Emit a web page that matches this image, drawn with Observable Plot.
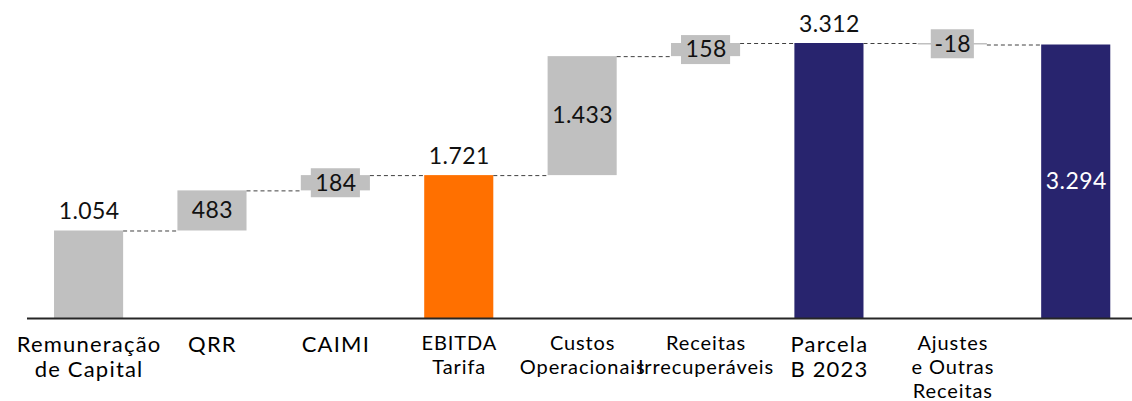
<!DOCTYPE html>
<html><head><meta charset="utf-8">
<script src="https://cdn.jsdelivr.net/npm/d3@7"></script>
<script src="https://cdn.jsdelivr.net/npm/@observablehq/plot@0.6"></script>
<style>
html,body{margin:0;padding:0;background:#fff;overflow:hidden}
</style>
</head><body><div id="chart"></div>
<script>
const categories = ["Remuneração\nde Capital","QRR","CAIMI","EBITDA\nTarifa","Custos\nOperacionais","Receitas\nIrrecuperáveis","Parcela\nB 2023","Ajustes\ne Outras\nReceitas",""];
const values = [1054, 483, 184, 1721, 1433, 158, 3312, -18, 3294];
const kinds = ["total","delta","delta","total","delta","delta","total","delta","total"];
const colors = ["#C0C0C0","#C0C0C0","#C0C0C0","#FF7000","#C0C0C0","#C0C0C0","#28246E","#C0C0C0","#28246E"];
const labelPlacement = ["above","box","box","above","box","box","above","box","inside"];
const largeLabels = [true,true,true,false,false,false,true,false,false];

const locale = d3.formatLocale({decimal:",", thousands:".", grouping:[3], currency:["R$",""], minus:"-"});
const fmt = locale.format(",d");

let run = 0;
const rows = categories.map((c, i) => {
  let y1, y2;
  if (kinds[i] === "total") { y1 = 0; y2 = values[i]; }
  else { y1 = run; y2 = run + values[i]; }
  run = y2;
  return {cat: c, value: values[i], y1, y2, mid: (y1 + y2) / 2, top: Math.max(y1, y2),
          color: colors[i], place: labelPlacement[i], large: largeLabels[i], label: fmt(values[i])};
});
const links = rows.slice(0, -1).map((r, i) => ({from: r.cat, to: rows[i + 1].cat, level: r.y2}));

const xOpts = {type: "band", domain: categories, range: [27, 1137.3], paddingInner: 0.44, paddingOuter: 0.219, round: false};
let bw = 69;
try { const s = Plot.scale({x: xOpts}); if (s && s.bandwidth) bw = s.bandwidth; } catch (e) {}

const chart = Plot.plot({
  width: 1132,
  height: 401,
  marginTop: 0,
  marginBottom: 83,
  marginLeft: 27,
  marginRight: 0,
  style: {fontFamily: "Lato, sans-serif", background: "white", color: "#000"},
  x: {...xOpts, axis: null},
  y: {domain: [0, 3830], axis: null},
  color: {type: "identity"},
  marks: [
    Plot.barY(rows, {x: "cat", y1: "y1", y2: "y2", fill: "color"}),
    Plot.ruleY(links, {x1: "from", x2: "to", y: "level", stroke: "#404040", strokeWidth: 1, strokeDasharray: "4,3", insetLeft: bw, insetRight: bw}),
    Plot.barY(rows.filter(d => d.place === "box" && d.value > 0), {x: "cat", y1: "mid", y2: "mid", fill: "#C0C0C0", insetLeft: 10, insetRight: 10, insetTop: -14.5, insetBottom: -14.5}),
    Plot.barY(rows.filter(d => d.place === "box" && d.value < 0), {x: "cat", y1: "mid", y2: "mid", fill: "#C0C0C0", insetLeft: 13, insetRight: 13, insetTop: -14.5, insetBottom: -14.5}),
    Plot.text(rows.filter(d => d.place === "above"), {x: "cat", y: "top", text: "label", lineAnchor: "bottom", dy: -12, fontSize: 23, fill: "#111"}),
    Plot.text(rows.filter(d => d.place === "box"), {x: "cat", y: "mid", text: "label", lineAnchor: "middle", fontSize: 23, fill: "#111"}),
    Plot.text(rows.filter(d => d.place === "inside"), {x: "cat", y: "mid", text: "label", lineAnchor: "middle", fontSize: 23, fill: "#fff"}),
    Plot.text(rows.filter(d => d.large), {x: "cat", y: () => 0, text: "cat", lineAnchor: "top", dy: 15.5, fontSize: 22, lineHeight: 25 / 22, fill: "#000"}),
    Plot.text(rows.filter(d => !d.large), {x: "cat", y: () => 0, text: "cat", lineAnchor: "top", dy: 14.8, fontSize: 20, lineHeight: 1.2, fill: "#000"}),
    Plot.ruleY([0], {stroke: "#262626", strokeWidth: 2})
  ]
});
document.getElementById("chart").appendChild(chart);

// letter spacing to approximate the reference's wider glyph set
const catSpacing = new Map(rows.filter(r => r.cat).map(r => [r.cat.replace(/\n/g, ""), r.large ? "1.2px" : "0.9px"]));
const valueSet = new Set(rows.map(r => r.label));
chart.querySelectorAll("text").forEach(t => {
  const k = t.textContent;
  if (catSpacing.has(k)) t.style.letterSpacing = catSpacing.get(k);
  else if (valueSet.has(k)) t.style.letterSpacing = "0.4px";
});
</script>
</body></html>
